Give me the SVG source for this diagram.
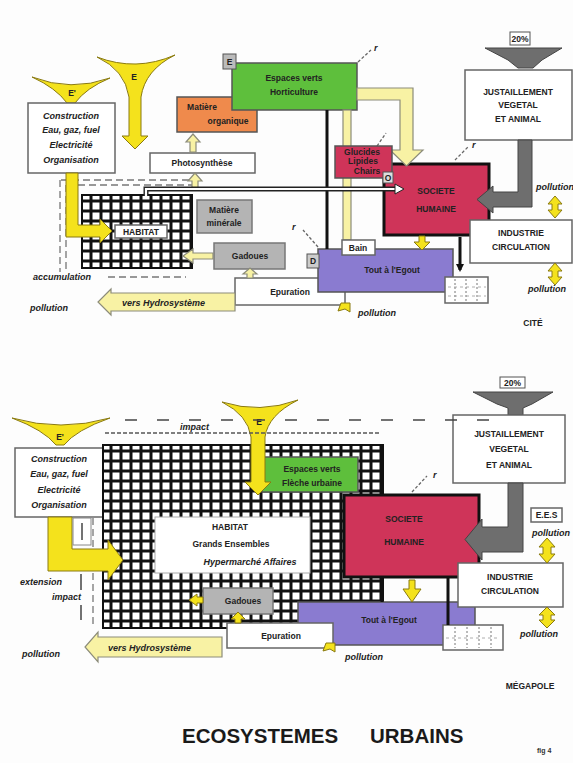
<svg xmlns="http://www.w3.org/2000/svg" width="573" height="763" viewBox="0 0 573 763">
<style>
  .box{stroke:#555;stroke-width:1.5}
  .wbox{fill:#fff;stroke:#666;stroke-width:1.5}
  .gbox{fill:#b4b4b4;stroke:#777;stroke-width:1.5}
  .t{font-family:"Liberation Sans",Arial,sans-serif;font-weight:bold;font-size:8.5px;fill:#222;text-anchor:middle}
  .ti{font-family:"Liberation Sans",Arial,sans-serif;font-weight:bold;font-style:italic;font-size:9px;fill:#222;text-anchor:middle}
  .tl{font-family:"Liberation Sans",Arial,sans-serif;font-weight:bold;font-style:italic;font-size:9px;fill:#222}
  .yel{fill:#f4e21c;stroke:#8a7a10;stroke-width:1}
  .lyel{fill:#f8f2a4;stroke:#8c8c7a;stroke-width:1.2}
  .dgray{fill:#6e6e6e;stroke:#444;stroke-width:1}
  .dash{fill:none;stroke:#777;stroke-width:1.3;stroke-dasharray:7 4}
  .blk{fill:none;stroke:#111;stroke-width:3}
  .rmark{fill:none;stroke:#666;stroke-width:1.3;stroke-dasharray:3 2}
</style>
<defs>
  <pattern id="grid" width="10" height="10" patternUnits="userSpaceOnUse">
    <rect width="10" height="10" fill="#111"/>
    <rect x="2.5" y="2.5" width="7" height="7" fill="#fff"/>
  </pattern>
  <marker id="ah" markerWidth="8" markerHeight="8" refX="6" refY="4" orient="auto" markerUnits="userSpaceOnUse">
    <path d="M0,0 L8,4 L0,8 Z" fill="#111"/>
  </marker>
</defs>
<rect width="573" height="763" fill="#fdfdfd"/>

<!-- ===================== CITÉ (upper diagram) ===================== -->
<g id="cite">
  <!-- energy funnels -->
  <g id="funnel-e-prime">
    <path class="yel" d="M32,77 Q71,92 110,78 Q86,88 75,103 L67,103 Q56,88 32,77 Z"/>
    <text class="t" x="72" y="96">E'</text>
  </g>
  <g id="funnel-e">
    <path class="yel" d="M97,57 Q136,72 175,55 Q145,70 141,97 L141,136 L148,136 L135,149 L122,136 L129,136 L129,97 Q125,70 97,57 Z"/>
    <text class="t" x="134" y="80">E</text>
  </g>

  <g id="construction">
    <rect class="wbox" x="28" y="103" width="87" height="70"/>
    <text class="ti" x="71" y="119">Construction</text>
    <text class="ti" x="71" y="133">Eau, gaz, fuel</text>
    <text class="ti" x="71" y="148">Electricité</text>
    <text class="ti" x="71" y="163">Organisation</text>
  </g>

  <g id="matiere-organique">
    <rect class="box" x="177" y="97" width="80" height="35" fill="#ef8a4c"/>
    <text class="t" x="202" y="110">Matière</text>
    <text class="t" x="228" y="124">organique</text>
  </g>

  <g id="espaces-verts">
    <rect class="box" x="232" y="63" width="125" height="47" fill="#5ebf3c"/>
    <text class="t" x="294" y="81">Espaces verts</text>
    <text class="t" x="294" y="95">Horticulture</text>
  </g>
  <g id="tag-e">
    <rect x="223" y="54" width="13" height="15" fill="#bbb" stroke="#555"/>
    <text class="t" x="229.5" y="65" font-size="8">E</text>
  </g>

  <g id="photosynthese">
    <rect class="wbox" x="150" y="153" width="105" height="20"/>
    <text class="t" x="202" y="166">Photosynthèse</text>
  </g>

  <g id="habitat">
    <rect x="82" y="195" width="110" height="73" fill="url(#grid)" stroke="#111" stroke-width="2"/>
    <rect class="wbox" x="115" y="225" width="52" height="13"/>
    <text class="t" x="141" y="235">HABITAT</text>
  </g>

  <g id="matiere-minerale">
    <rect class="gbox" x="197" y="200" width="55" height="33"/>
    <text class="t" x="224" y="213">Matière</text>
    <text class="t" x="224" y="226">minérale</text>
  </g>

  <g id="gadoues">
    <rect class="gbox" x="214" y="243" width="71" height="26"/>
    <text class="t" x="250" y="259">Gadoues</text>
  </g>

  <g id="epuration">
    <rect class="wbox" x="235" y="278" width="110" height="27"/>
    <text class="t" x="290" y="295">Epuration</text>
  </g>

  <g id="societe">
    <rect x="384" y="164" width="105" height="71" fill="#cf3459" stroke="#111" stroke-width="3"/>
    <text class="t" x="436" y="194">SOCIETE</text>
    <text class="t" x="436" y="212">HUMAINE</text>
  </g>

  <g id="tout-egout">
    <rect class="box" x="318" y="249" width="135" height="43" fill="#8a7bd0"/>
    <text class="t" x="392" y="273">Tout à l'Egout</text>
  </g>
  <g id="tag-d">
    <rect x="307" y="254" width="12" height="14" fill="#ccc" stroke="#555"/>
    <text class="t" x="313" y="264" font-size="8">D</text>
  </g>

  <g id="table">
    <rect class="wbox" x="445" y="277" width="43" height="26"/>
    <path d="M455,279 V301 M466,279 V301 M477,279 V301" stroke="#777" stroke-width="1" stroke-dasharray="2 2"/>
    <path d="M448,287 H486 M448,296 H486" stroke="#999" stroke-width="0.8" stroke-dasharray="3 3"/>
  </g>

  <g id="source-20">
    <rect x="510" y="32" width="20" height="13" fill="#fff" stroke="#555"/>
    <text class="t" x="520" y="42" font-size="7">20%</text>
    <path class="dgray" d="M485,48 L562,48 L542,60 L533,68 L518,68 L508,60 Z"/>
  </g>

  <g id="jaillissement">
    <rect class="wbox" x="465" y="70" width="107" height="70"/>
    <text class="t" x="518" y="95">JUSTAILLEMENT</text>
    <text class="t" x="518" y="108">VEGETAL</text>
    <text class="t" x="518" y="122">ET ANIMAL</text>
  </g>

  <g id="industrie">
    <rect class="wbox" x="470" y="220" width="102" height="43"/>
    <text class="t" x="521" y="236">INDUSTRIE</text>
    <text class="t" x="521" y="250">CIRCULATION</text>
  </g>

  <!-- labels -->
  <text class="tl" x="33" y="280">accumulation</text>
  <text class="tl" x="30" y="311">pollution</text>
  <text class="tl" x="358" y="316">pollution</text>
  <text class="tl" x="536" y="190" font-size="8">pollution</text>
  <text class="tl" x="528" y="292" font-size="8">pollution</text>
  <text class="t" x="533" y="326">CITÉ</text>

  <!-- connectors -->
  <g id="cite-connectors">
    <path class="dash" d="M61,180 H194 M67,185 H194"/>
    <path class="dash" d="M60,180 V272 M66,185 V272"/>
    <path class="dash" d="M108,277 H186"/>

    <path class="yel" d="M66,173 L78,173 L78,225 L100,225 L100,219 L112,231 L100,243 L100,237 L66,237 Z"/>

    <!-- flows from the green spaces -->
    <path class="lyel" d="M357,88 L413,88 L413,150 L423,150 L406.5,166 L390,150 L400,150 L400,100 L357,100 Z"/>
    <rect class="lyel" x="343" y="110" width="8" height="130"/>
    <path class="blk" d="M327,110 V249"/>

    <!-- small transfer arrows -->
    <path class="lyel" d="M190,152 V142 H186 L193,134 L200,142 H196 V152 Z"/>
    <path class="lyel" d="M192,190 V181 H188 L195,173 L202,181 H198 V190 Z"/>
    <path class="lyel" d="M213,253 H193 V249 L183,256 L193,263 V259 H213 Z"/>
    <path class="lyel" d="M247,278 V274 H243 L250,268 L257,274 H253 V278 Z"/>
    <path class="yel" d="M419,236 V242 H414 L422,250 L430,242 H425 V236 Z"/>

    <!-- habitat to society -->
    <path d="M146,196 V189 H397" fill="none" stroke="#222" stroke-width="5"/>
    <path d="M146,196 V189 H397" fill="none" stroke="#fff" stroke-width="2.2"/>
    <path d="M395,184 L404,189 L395,194 Z" fill="#fff" stroke="#222" stroke-width="1"/>

    <!-- society to sewage table -->
    <path class="blk" d="M460,237 V270" marker-end="url(#ah)"/>

    <!-- plant and animal flow into society -->
    <path class="dgray" d="M518,140 L532,140 L532,207 L493,207 L493,213 L477,199.5 L493,186 L493,192 L518,192 Z"/>

    <!-- pollution double arrows -->
    <path class="yel" d="M555,196 L562,204 H558 V210 H562 L555,218 L548,210 H552 V204 H548 Z"/>
    <path class="yel" d="M555,263 L562,271 H558 V277 H562 L555,285 L548,277 H552 V271 H548 Z"/>

    <!-- to the hydrosystem -->
    <path class="lyel" d="M235,293 H111 V289 L98,302 L111,315 V311 H235 Z"/>
    <text class="tl" x="122" y="306" font-size="8">vers Hydrosystème</text>
    <path class="yel" d="M341,303 H350 V312 L345,309 L338,311 Z"/>

    <!-- r markers -->
    <path class="rmark" d="M358,62 L371,50"/>
    <text class="tl" x="374" y="51" font-size="8">r</text>
    <path class="rmark" d="M377,146 L386,133"/>
    <path class="rmark" d="M455,160 L468,147"/>
    <text class="tl" x="472" y="148" font-size="8">r</text>
    <path class="rmark" d="M318,247 L303,230"/>
    <text class="tl" x="292" y="230" font-size="8">r</text>
  </g>

  <g id="bain">
    <rect class="wbox" x="342" y="240" width="33" height="15"/>
    <text class="t" x="358" y="251">Bain</text>
  </g>
  <g id="nutriments">
    <rect class="box" x="335" y="146" width="57" height="32" fill="#cf3459"/>
    <text class="t" x="362" y="155" font-size="7.5">Glucides</text>
    <text class="t" x="363" y="164" font-size="7.5">Lipides</text>
    <text class="t" x="367" y="174" font-size="7.5">Chairs</text>
  </g>
  <g id="tag-o">
    <rect x="383" y="172" width="10" height="11" fill="#ddd" stroke="#555"/>
    <text class="t" x="388" y="181" font-size="7.5">O</text>
  </g>
</g>

<!-- ===================== MÉGAPOLE (lower diagram) ===================== -->
<g id="megapole">
  <g id="funnel-e-prime-2">
    <path class="yel" d="M12,418 Q61,432 110,418 Q76,430 64,445 L56,445 Q44,430 12,418 Z"/>
    <text class="t" x="60" y="440">E'</text>
  </g>

  <g id="construction-2">
    <rect class="wbox" x="15" y="448" width="88" height="69"/>
    <text class="ti" x="59" y="462">Construction</text>
    <text class="ti" x="59" y="477">Eau, gaz, fuel</text>
    <text class="ti" x="59" y="493">Electricité</text>
    <text class="ti" x="59" y="508">Organisation</text>
  </g>

  <g id="habitat-2">
    <rect x="103" y="445" width="280" height="183" fill="url(#grid)" stroke="#111" stroke-width="2"/>
    <rect x="155" y="517" width="155" height="56" fill="#fff" stroke="#aaa" stroke-width="1"/>
    <text class="t" x="230" y="530">HABITAT</text>
    <text class="t" x="231" y="547">Grands Ensembles</text>
    <text class="ti" x="250" y="565">Hypermarché Affaires</text>
  </g>

  <g id="espaces-verts-2">
    <rect class="box" x="262" y="457" width="96" height="35" fill="#5ebf3c"/>
    <text class="t" x="312" y="472">Espaces verts</text>
    <text class="t" x="312" y="486">Flèche urbaine</text>
  </g>

  <g id="funnel-e-2">
    <path class="yel" d="M222,402 Q260,414 298,400 Q268,415 265,437 L265,482 L271,482 L258,495 L245,482 L251,482 L251,437 Q248,415 222,402 Z"/>
    <text class="t" x="259" y="425">E</text>
  </g>

  <g id="societe-2">
    <rect x="344" y="495" width="135" height="82" fill="#cf3459" stroke="#111" stroke-width="3"/>
    <text class="t" x="404" y="522">SOCIETE</text>
    <text class="t" x="404" y="545">HUMAINE</text>
  </g>

  <g id="gadoues-2">
    <rect class="gbox" x="203" y="588" width="70" height="26"/>
    <text class="t" x="243" y="604">Gadoues</text>
  </g>

  <g id="tout-egout-2">
    <rect class="box" x="298" y="602" width="177" height="43" fill="#8a7bd0"/>
    <text class="t" x="389" y="623">Tout à l'Egout</text>
  </g>

  <g id="epuration-2">
    <rect class="wbox" x="227" y="623" width="106" height="25"/>
    <text class="t" x="281" y="639">Epuration</text>
  </g>

  <g id="table-2">
    <rect class="wbox" x="443" y="625" width="60" height="25"/>
    <path d="M455,627 V648 M467,627 V648 M479,627 V648 M491,627 V648" stroke="#777" stroke-width="1" stroke-dasharray="2 2"/>
    <path d="M446,638 H500" stroke="#999" stroke-width="0.8" stroke-dasharray="3 3"/>
  </g>

  <g id="source-20-2">
    <rect x="500" y="377" width="25" height="11" fill="#fff" stroke="#555"/>
    <text class="t" x="512.5" y="386" font-size="7">20%</text>
    <path class="dgray" d="M473,392 L553,392 L532,404 L523,408 L523,415 L508,415 L508,408 L497,404 Z"/>
  </g>

  <g id="jaillissement-2">
    <rect class="wbox" x="453" y="415" width="112" height="68"/>
    <text class="t" x="509" y="437">JUSTAILLEMENT</text>
    <text class="t" x="509" y="452">VEGETAL</text>
    <text class="t" x="509" y="468">ET ANIMAL</text>
  </g>

  <g id="industrie-2">
    <rect class="wbox" x="458" y="563" width="105" height="44"/>
    <text class="t" x="510" y="580">INDUSTRIE</text>
    <text class="t" x="510" y="594">CIRCULATION</text>
  </g>

  <g id="ees">
    <rect class="wbox" x="531" y="508" width="31" height="14"/>
    <text class="t" x="546.5" y="518" font-size="7">E.E.S</text>
  </g>

  <!-- labels -->
  <text class="tl" x="20" y="585" font-size="8.5">extension</text>
  <text class="tl" x="52" y="600" font-size="8.5">impact</text>
  <text class="tl" x="180" y="430" font-size="8.5">impact</text>
  <text class="tl" x="22" y="657">pollution</text>
  <text class="tl" x="345" y="660">pollution</text>
  <text class="tl" x="532" y="536" font-size="8">pollution</text>
  <text class="tl" x="520" y="637" font-size="8">pollution</text>
  <text class="t" x="530" y="689">MÉGAPOLE</text>

  <g id="megapole-connectors">
    <path d="M125,420 H500" fill="none" stroke="#444" stroke-width="1.5" stroke-dasharray="12 20"/>
    <path d="M105,433 H380" fill="none" stroke="#555" stroke-width="1.5" stroke-dasharray="4 2"/>
    <path class="dash" d="M93,518 V624"/>
    <path d="M81,574 V590 M81,605 V620" stroke="#444" stroke-width="1.5"/>

    <path class="yel" d="M48,517 L72,517 L72,549 L108,549 L108,540 L123,560 L108,580 L108,571 L48,571 Z"/>
    <rect x="73" y="518" width="18" height="27" fill="#fff" stroke="#888" stroke-width="1"/>
    <path d="M82,523 V540" stroke="#444" stroke-width="1.5"/>

    <path class="dgray" d="M508,483 L523,483 L523,552 L482,552 L482,560 L465,539.5 L482,519 L482,527 L508,527 Z"/>

    <path class="yel" d="M547,538 L555,547 H551 V554 H555 L547,563 L539,554 H543 V547 H539 Z"/>
    <path class="yel" d="M547,607 L555,615 H551 V620 H555 L547,628 L539,620 H543 V615 H539 Z"/>

    <path class="blk" d="M382,578 V602"/>
    <path class="blk" d="M448,578 V625"/>
    <path class="yel" d="M409,580 V589 H403 L412,602 L421,589 H415 V580 Z"/>

    <path class="yel" d="M203,597 H197 V594 L189,600 L197,606 V603 H203 Z"/>
    <path class="yel" d="M235,623 V619 H231 L238,612 L245,619 H241 V623 Z"/>

    <path class="lyel" d="M222,637 H98 V632 L85,647 L98,662 V657 H222 Z"/>
    <text class="tl" x="108" y="651" font-size="8">vers Hydrosystème</text>
    <path class="yel" d="M326,643 H335 V652 L330,649 L323,651 Z"/>

    <path class="rmark" d="M412,492 L427,476"/>
    <text class="tl" x="433" y="478" font-size="8">r</text>
  </g>
</g>

<!-- title -->
<text x="182" y="743" font-family="Liberation Sans, Arial, sans-serif" font-weight="bold" font-size="20.5" fill="#1a1a1a">ECOSYSTEMES</text>
<text x="370" y="743" font-family="Liberation Sans, Arial, sans-serif" font-weight="bold" font-size="20.5" fill="#1a1a1a">URBAINS</text>
<text x="537" y="753" font-family="Liberation Sans, Arial, sans-serif" font-weight="bold" font-size="7" fill="#333">fig 4</text>
</svg>
